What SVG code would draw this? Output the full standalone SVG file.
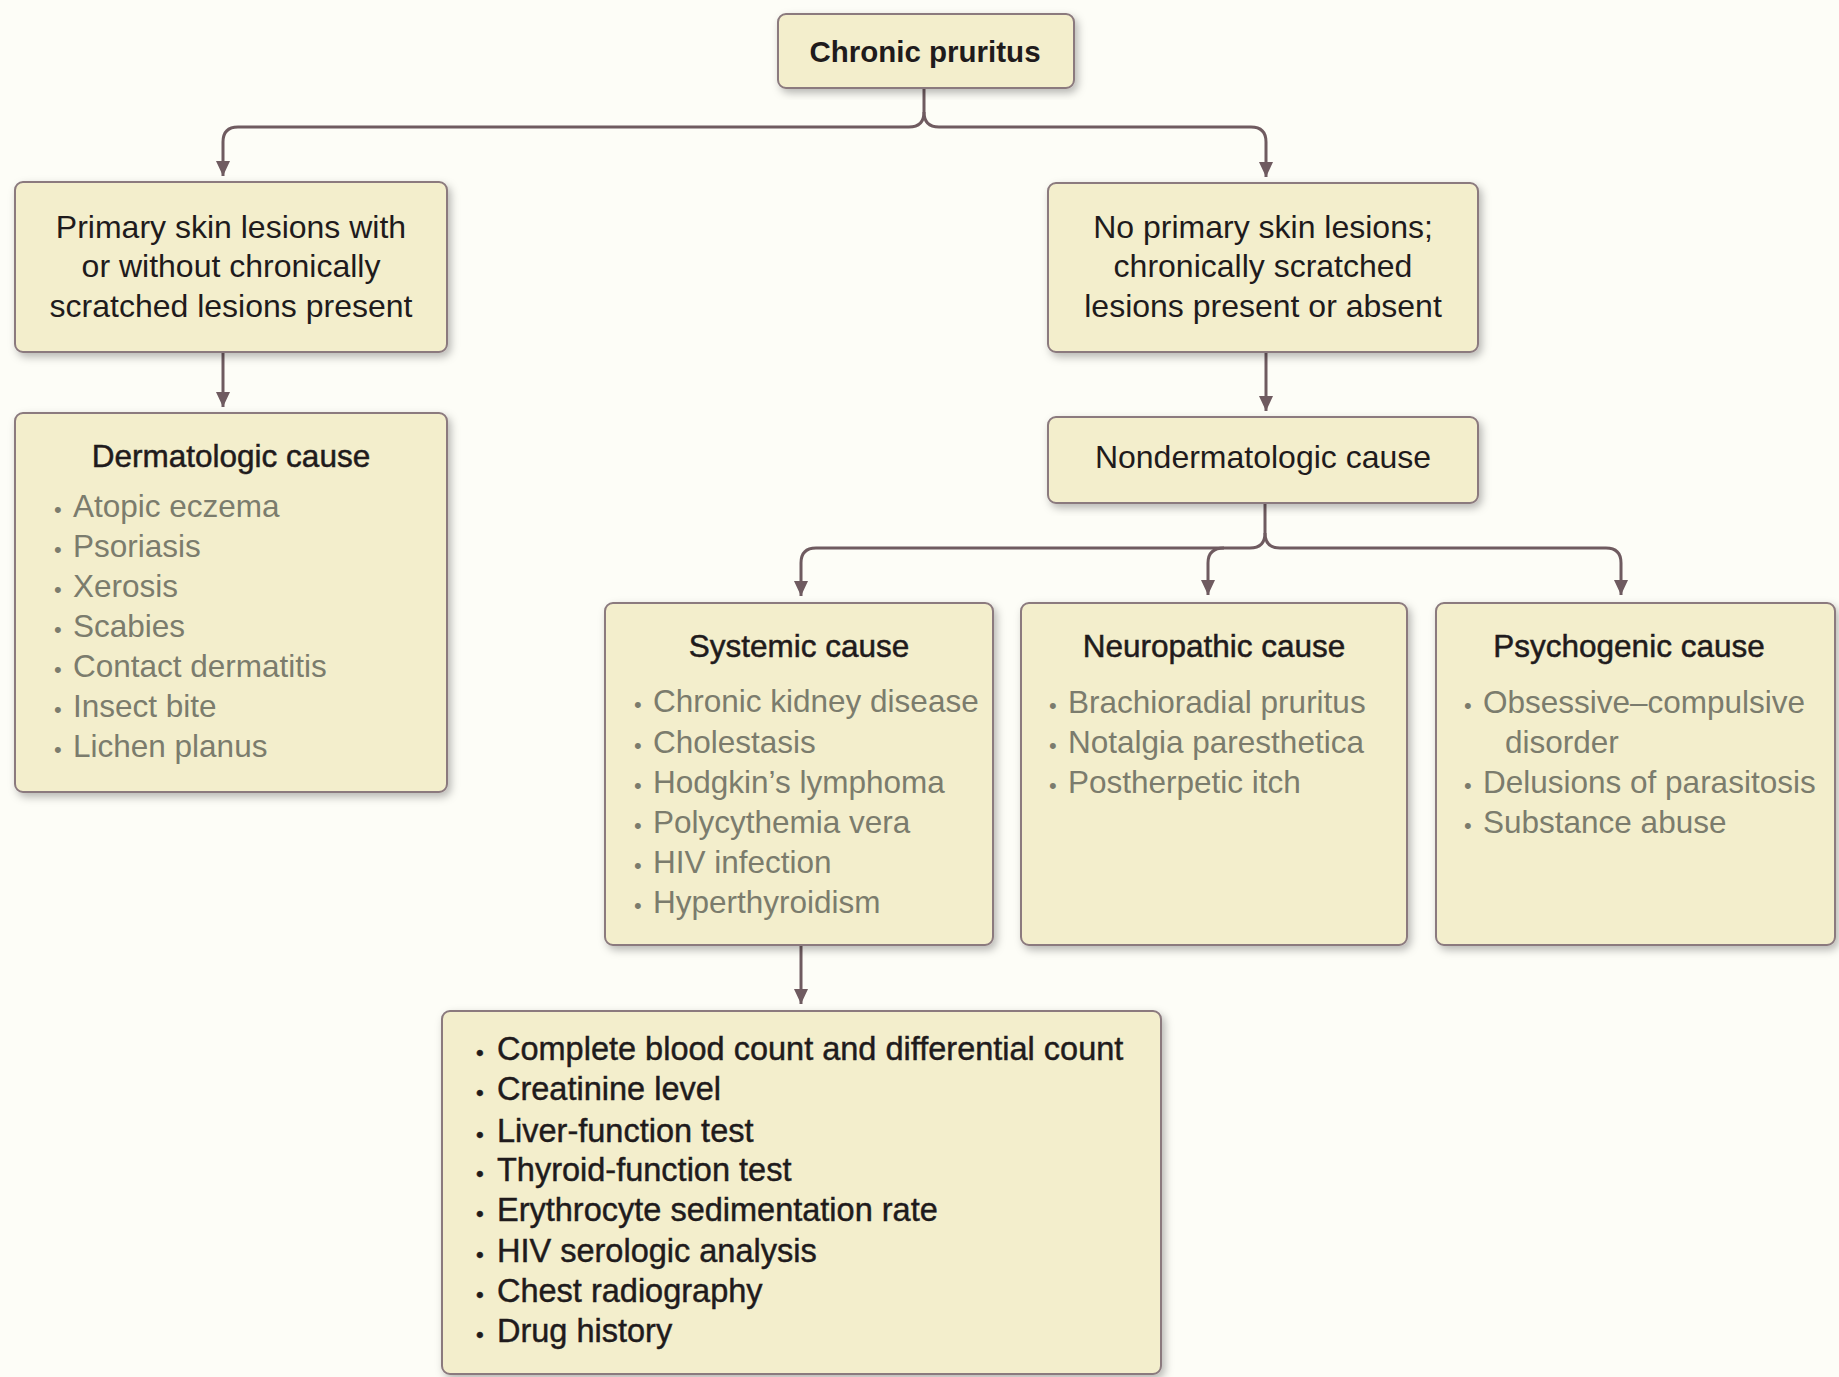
<svg xmlns="http://www.w3.org/2000/svg" width="1839" height="1377" viewBox="0 0 1839 1377">
<defs>
<filter id="sh" x="-10%" y="-10%" width="125%" height="125%">
<feDropShadow dx="3" dy="4" stdDeviation="4" flood-color="#000" flood-opacity="0.28"/>
</filter>
<marker id="ah" markerUnits="userSpaceOnUse" markerWidth="16" markerHeight="16" refX="15" refY="8" orient="auto">
<path d="M0,1 L15,8 L0,15 z" fill="#6f5b60"/>
</marker>
<style>
.box{fill:#f3eecc;stroke:#8b7a7e;stroke-width:2;filter:url(#sh)}
.t{font-family:"Liberation Sans",Arial,sans-serif;font-size:32px;fill:#1f1b1c}
.c{text-anchor:middle}
.h{font-family:"Liberation Sans",Arial,sans-serif;font-size:31.5px;fill:#1f1b1c;stroke:#1f1b1c;stroke-width:0.5;text-anchor:middle}
.i{font-family:"Liberation Sans",Arial,sans-serif;font-size:31.5px;fill:#7b7c6d}
.k{font-family:"Liberation Sans",Arial,sans-serif;font-size:32.5px;fill:#1f1b1c;stroke:#1f1b1c;stroke-width:0.45}
.b{font-size:22px}
.ln{fill:none;stroke:#6f5b60;stroke-width:3;stroke-linecap:butt;stroke-linejoin:round}
</style>
</defs>
<rect x="0" y="0" width="1839" height="1377" fill="#fdfdf7"/>

<g id="connectors">
<path class="ln" d="M924,88 V112 Q924,127 909,127 H238 Q223,127 223,142 V176" marker-end="url(#ah)"/>
<path class="ln" d="M924,112 Q924,127 939,127 H1251 Q1266,127 1266,142 V177" marker-end="url(#ah)"/>
<path class="ln" d="M223,352 V407" marker-end="url(#ah)"/>
<path class="ln" d="M1266,352 V411" marker-end="url(#ah)"/>
<path class="ln" d="M1265,503 V533 Q1265,548 1250,548 H816 Q801,548 801,563 V596" marker-end="url(#ah)"/>
<path class="ln" d="M1224,548 Q1208,548 1208,563 V595" marker-end="url(#ah)"/>
<path class="ln" d="M1265,533 Q1265,548 1280,548 H1606 Q1621,548 1621,563 V595" marker-end="url(#ah)"/>
<path class="ln" d="M801,945 V1004" marker-end="url(#ah)"/>
</g>

<g id="chronic-pruritus">
<rect class="box" x="778" y="14" width="296" height="74" rx="8"/>
<text class="t c" x="925" y="62" style="font-weight:bold;font-size:29.5px">Chronic pruritus</text>
</g>

<g id="primary-lesions">
<rect class="box" x="15" y="182" width="432" height="170" rx="8"/>
<text class="t c" x="231" y="238">Primary skin lesions with</text>
<text class="t c" x="231" y="277">or without chronically</text>
<text class="t c" x="231" y="317">scratched lesions present</text>
</g>

<g id="no-primary-lesions">
<rect class="box" x="1048" y="183" width="430" height="169" rx="8"/>
<text class="t c" x="1263" y="238">No primary skin lesions;</text>
<text class="t c" x="1263" y="277">chronically scratched</text>
<text class="t c" x="1263" y="317">lesions present or absent</text>
</g>

<g id="dermatologic-cause">
<rect class="box" x="15" y="413" width="432" height="379" rx="8"/>
<text class="h" x="231" y="467">Dermatologic cause</text>
<text class="i" y="517"><tspan class="b" x="54">•</tspan><tspan x="73">Atopic eczema</tspan></text>
<text class="i" y="557"><tspan class="b" x="54">•</tspan><tspan x="73">Psoriasis</tspan></text>
<text class="i" y="597"><tspan class="b" x="54">•</tspan><tspan x="73">Xerosis</tspan></text>
<text class="i" y="637"><tspan class="b" x="54">•</tspan><tspan x="73">Scabies</tspan></text>
<text class="i" y="677"><tspan class="b" x="54">•</tspan><tspan x="73">Contact dermatitis</tspan></text>
<text class="i" y="717"><tspan class="b" x="54">•</tspan><tspan x="73">Insect bite</tspan></text>
<text class="i" y="757"><tspan class="b" x="54">•</tspan><tspan x="73">Lichen planus</tspan></text>
</g>

<g id="nondermatologic-cause">
<rect class="box" x="1048" y="417" width="430" height="86" rx="8"/>
<text class="t c" x="1263" y="468">Nondermatologic cause</text>
</g>

<g id="systemic-cause">
<rect class="box" x="605" y="603" width="388" height="342" rx="8"/>
<text class="h" x="799" y="657">Systemic cause</text>
<text class="i" y="712"><tspan class="b" x="634">•</tspan><tspan x="653">Chronic kidney disease</tspan></text>
<text class="i" y="753"><tspan class="b" x="634">•</tspan><tspan x="653">Cholestasis</tspan></text>
<text class="i" y="793"><tspan class="b" x="634">•</tspan><tspan x="653">Hodgkin’s lymphoma</tspan></text>
<text class="i" y="833"><tspan class="b" x="634">•</tspan><tspan x="653">Polycythemia vera</tspan></text>
<text class="i" y="873"><tspan class="b" x="634">•</tspan><tspan x="653">HIV infection</tspan></text>
<text class="i" y="913"><tspan class="b" x="634">•</tspan><tspan x="653">Hyperthyroidism</tspan></text>
</g>

<g id="neuropathic-cause">
<rect class="box" x="1021" y="603" width="386" height="342" rx="8"/>
<text class="h" x="1214" y="657">Neuropathic cause</text>
<text class="i" y="713"><tspan class="b" x="1049">•</tspan><tspan x="1068">Brachioradial pruritus</tspan></text>
<text class="i" y="753"><tspan class="b" x="1049">•</tspan><tspan x="1068">Notalgia paresthetica</tspan></text>
<text class="i" y="793"><tspan class="b" x="1049">•</tspan><tspan x="1068">Postherpetic itch</tspan></text>
</g>

<g id="psychogenic-cause">
<rect class="box" x="1436" y="603" width="399" height="342" rx="8"/>
<text class="h" x="1629" y="657">Psychogenic cause</text>
<text class="i" y="713"><tspan class="b" x="1464">•</tspan><tspan x="1483">Obsessive–compulsive</tspan></text>
<text class="i" x="1505" y="753">disorder</text>
<text class="i" y="793"><tspan class="b" x="1464">•</tspan><tspan x="1483">Delusions of parasitosis</tspan></text>
<text class="i" y="833"><tspan class="b" x="1464">•</tspan><tspan x="1483">Substance abuse</tspan></text>
</g>

<g id="tests">
<rect class="box" x="442" y="1011" width="719" height="363" rx="8"/>
<text class="k" y="1060"><tspan class="b" x="476">•</tspan><tspan x="497">Complete blood count and differential count</tspan></text>
<text class="k" y="1100"><tspan class="b" x="476">•</tspan><tspan x="497">Creatinine level</tspan></text>
<text class="k" y="1142"><tspan class="b" x="476">•</tspan><tspan x="497">Liver-function test</tspan></text>
<text class="k" y="1181"><tspan class="b" x="476">•</tspan><tspan x="497">Thyroid-function test</tspan></text>
<text class="k" y="1221"><tspan class="b" x="476">•</tspan><tspan x="497">Erythrocyte sedimentation rate</tspan></text>
<text class="k" y="1262"><tspan class="b" x="476">•</tspan><tspan x="497">HIV serologic analysis</tspan></text>
<text class="k" y="1302"><tspan class="b" x="476">•</tspan><tspan x="497">Chest radiography</tspan></text>
<text class="k" y="1342"><tspan class="b" x="476">•</tspan><tspan x="497">Drug history</tspan></text>
</g>
</svg>
